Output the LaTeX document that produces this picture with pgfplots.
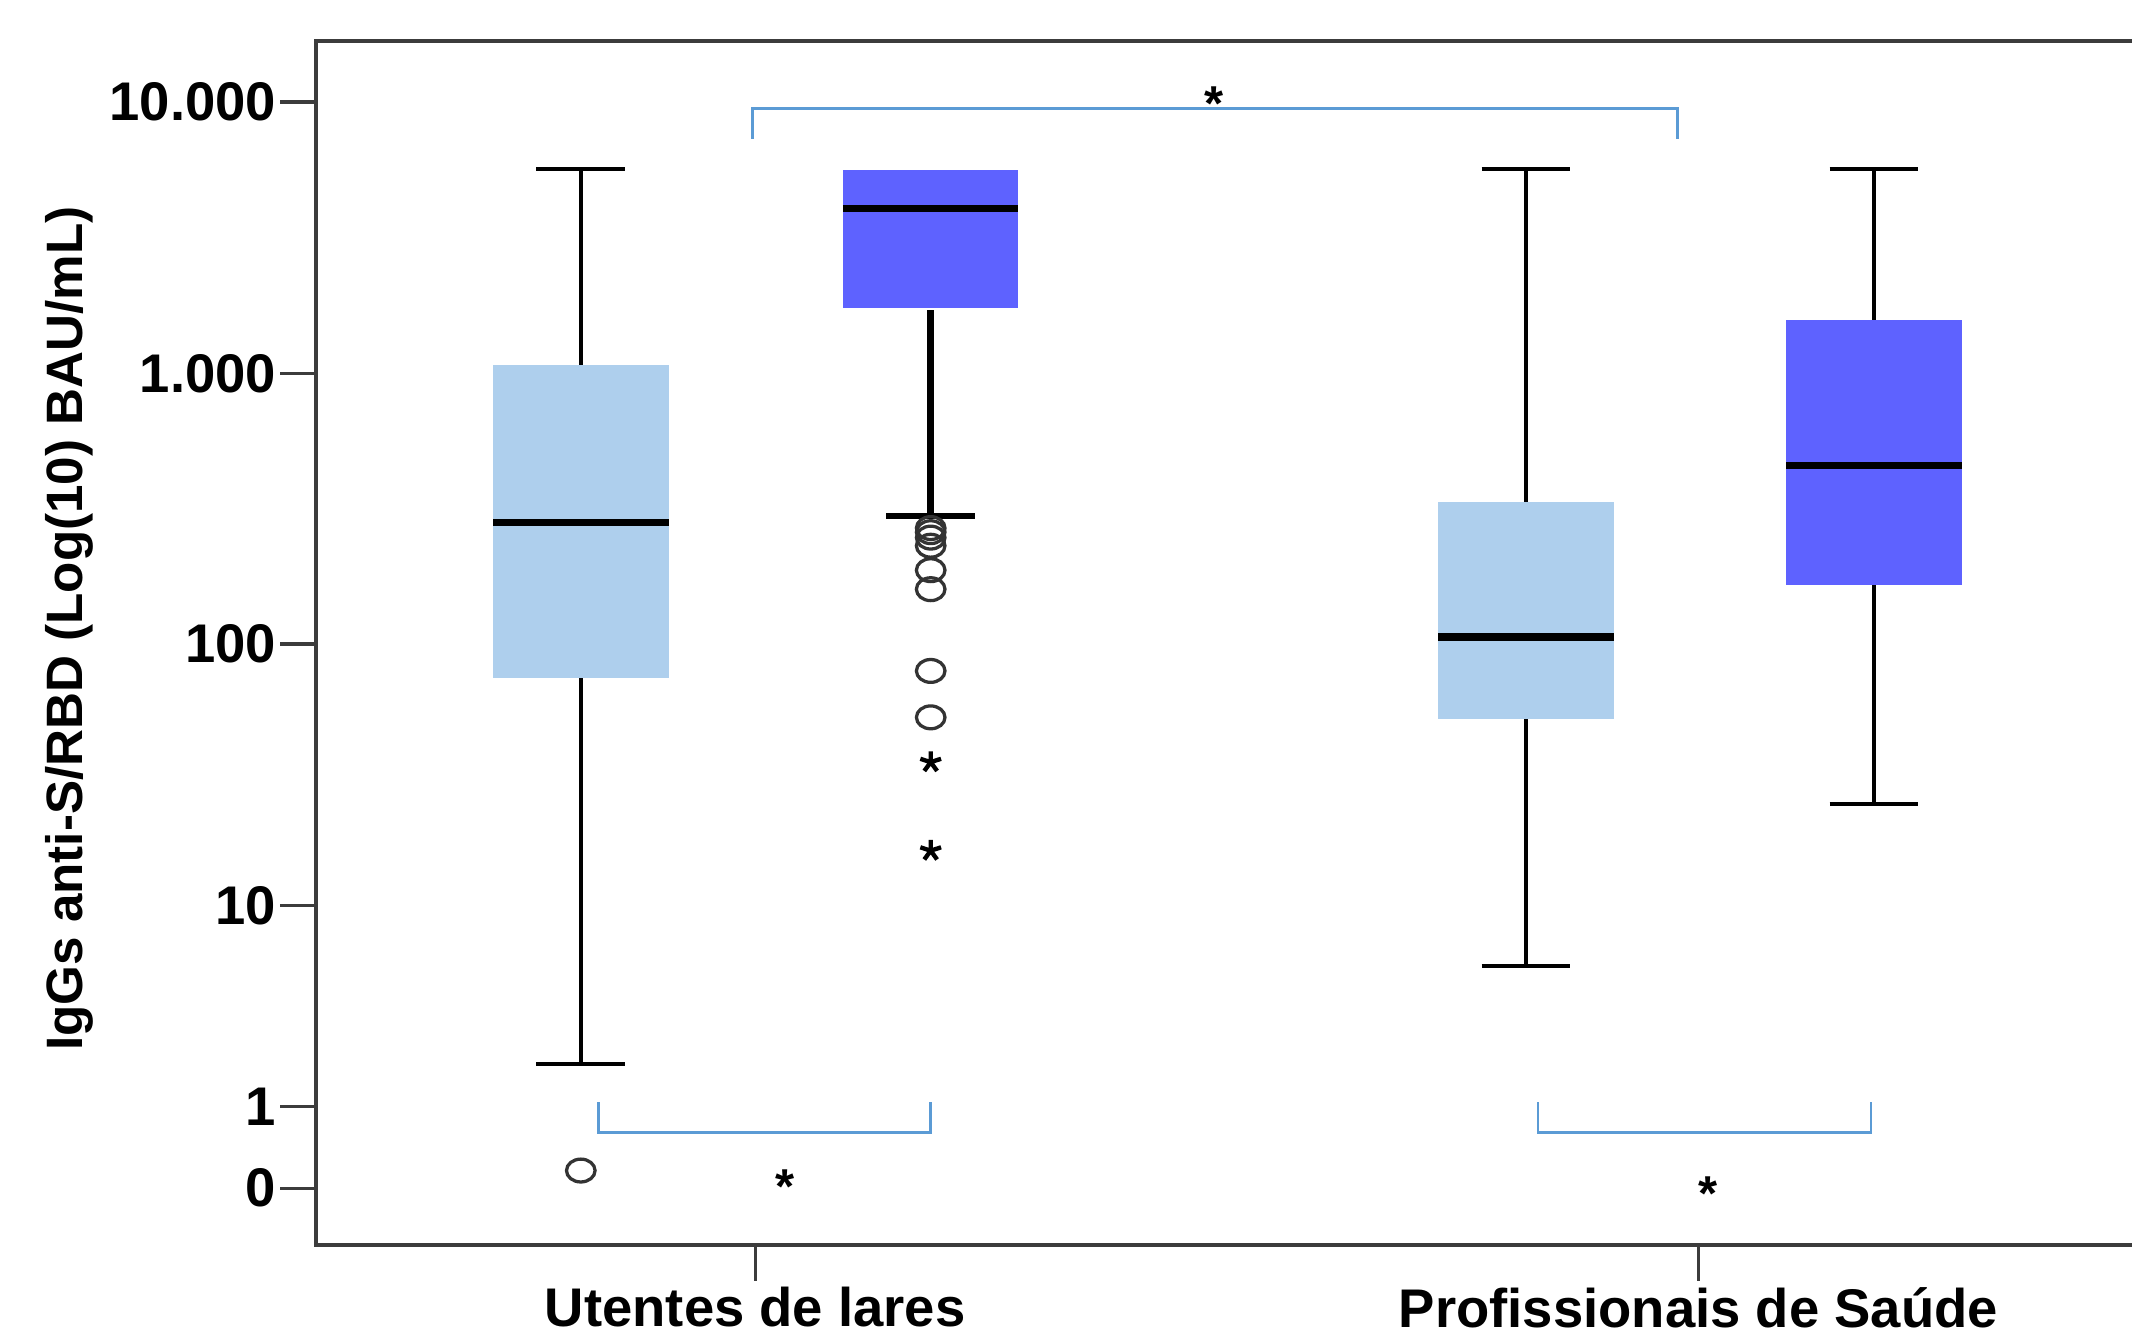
\documentclass[border=0pt]{standalone}
\usepackage{pgfplots}
\pgfplotsset{compat=1.18}
\usepgfplotslibrary{statistics}
\usepackage{fontspec}
\setmainfont{Liberation Sans}
\definecolor{lightbox}{HTML}{AECFED}
\definecolor{darkbox}{HTML}{5E62FF}
\definecolor{bracketc}{HTML}{5B9BD5}
\definecolor{axisgray}{HTML}{3C3C3C}
% y values are plotted as log10(BAU/mL + 1), the scale of the original chart
\begin{document}
\begin{tikzpicture}
\begin{axis}[
  width=334pt, height=221.25pt, scale only axis,
  xmin=0.534, xmax=2.462, ymin=-0.2105, ymax=4.2256,
  axis line style={axisgray, line width=0.75pt},
  xtick={1,2}, xticklabels={Utentes de lares, Profissionais de Saúde},
  ytick={0,0.30103,1.04139,2.00432,3.00043,4.00004},
  yticklabels={0,1,10,100,1.000,10.000},
  tick align=outside, tick pos=left,
  major tick length=6.5pt,
  tick style={axisgray, line width=0.6pt},
  ticklabel style={font=\bfseries\fontsize{10}{12}\selectfont},
  yticklabel style={inner sep=0.6pt},
  xticklabel style={inner sep=1pt},
  ylabel={IgGs anti-S/RBD (Log(10) BAU/mL)},
  ylabel style={font=\bfseries\fontsize{9.4}{11}\selectfont, at={(axis description cs:-0.1355,0.512)}, anchor=center, rotate=0},
  boxplot/draw direction=y,
  boxplot/box extend=0.186,
  boxplot/whisker extend=0.094,
]
% Utentes de lares - first (light)
\addplot[black, boxplot prepared={draw position=0.815, lower whisker=0.456, lower quartile=1.880, median=2.451, upper quartile=3.033, upper whisker=3.754},
  boxplot/every box/.style={fill=lightbox, draw=none},
  boxplot/every median/.style={line width=1.3pt},
  boxplot/every whisker/.style={line width=0.75pt}] coordinates {};
% Utentes de lares - second (dark); its lower whisker drawn below, no upper whisker
\addplot[black, boxplot prepared={draw position=1.186, lower whisker=3.243, lower quartile=3.243, median=3.609, upper quartile=3.749, upper whisker=3.749},
  boxplot/every box/.style={fill=darkbox, draw=none},
  boxplot/every median/.style={line width=1.3pt},
  boxplot/every whisker/.style={draw=none}] coordinates {};
\addplot[black, line width=1.2pt] coordinates {(1.186,2.476) (1.186,3.235)};
\addplot[black, line width=1.2pt] coordinates {(1.139,2.476) (1.233,2.476)};
% Profissionais de Saude - first (light)
\addplot[black, boxplot prepared={draw position=1.817, lower whisker=0.817, lower quartile=1.729, median=2.030, upper quartile=2.526, upper whisker=3.754},
  boxplot/every box/.style={fill=lightbox, draw=none},
  boxplot/every median/.style={line width=1.3pt},
  boxplot/every whisker/.style={line width=0.75pt}] coordinates {};
% Profissionais de Saude - second (dark)
\addplot[black, boxplot prepared={draw position=2.186, lower whisker=1.414, lower quartile=2.221, median=2.662, upper quartile=3.198, upper whisker=3.754},
  boxplot/every box/.style={fill=darkbox, draw=none},
  boxplot/every median/.style={line width=1.3pt},
  boxplot/every whisker/.style={line width=0.75pt}] coordinates {};
% outliers (circles)
\addplot[only marks, mark=o, mark size=2.1pt, mark options={xscale=1.25, line width=0.6pt, draw=black!80}] coordinates {
  (0.815,0.065)
  (1.186,2.431) (1.186,2.416) (1.186,2.396) (1.186,2.366) (1.186,2.276) (1.186,2.206) (1.186,1.905) (1.186,1.734)
};
% extreme values (stars)
\addplot[only marks, mark=star, mark size=2pt, mark options={line width=0.8pt, draw=black}] coordinates {
  (1.186,1.569) (1.186,1.243)
};
% significance brackets
\draw[bracketc, line width=0.5pt] (axis cs:0.997,3.865) -- (axis cs:0.997,3.975) -- (axis cs:1.978,3.975) -- (axis cs:1.978,3.865);
\node[font=\bfseries\fontsize{9}{11}\selectfont, yshift=-2pt] at (axis cs:1.486,4.035) {*};
\draw[bracketc, line width=0.5pt] (axis cs:0.834,0.316) -- (axis cs:0.834,0.2055) -- (axis cs:1.186,0.2055) -- (axis cs:1.186,0.316);
\node[font=\bfseries\fontsize{9}{11}\selectfont, yshift=-2pt] at (axis cs:1.032,0.045) {*};
\draw[bracketc, line width=0.5pt] (axis cs:1.830,0.316) -- (axis cs:1.830,0.2055) -- (axis cs:2.183,0.2055) -- (axis cs:2.183,0.316);
\node[font=\bfseries\fontsize{9}{11}\selectfont, yshift=-2pt] at (axis cs:2.0101,0.02) {*};
\end{axis}
\pgfresetboundingbox
\path ([xshift=-58pt,yshift=-16.5pt]current axis.south west) rectangle ([xshift=-0.4pt,yshift=7.5pt]current axis.north east);
\end{tikzpicture}
\end{document}
